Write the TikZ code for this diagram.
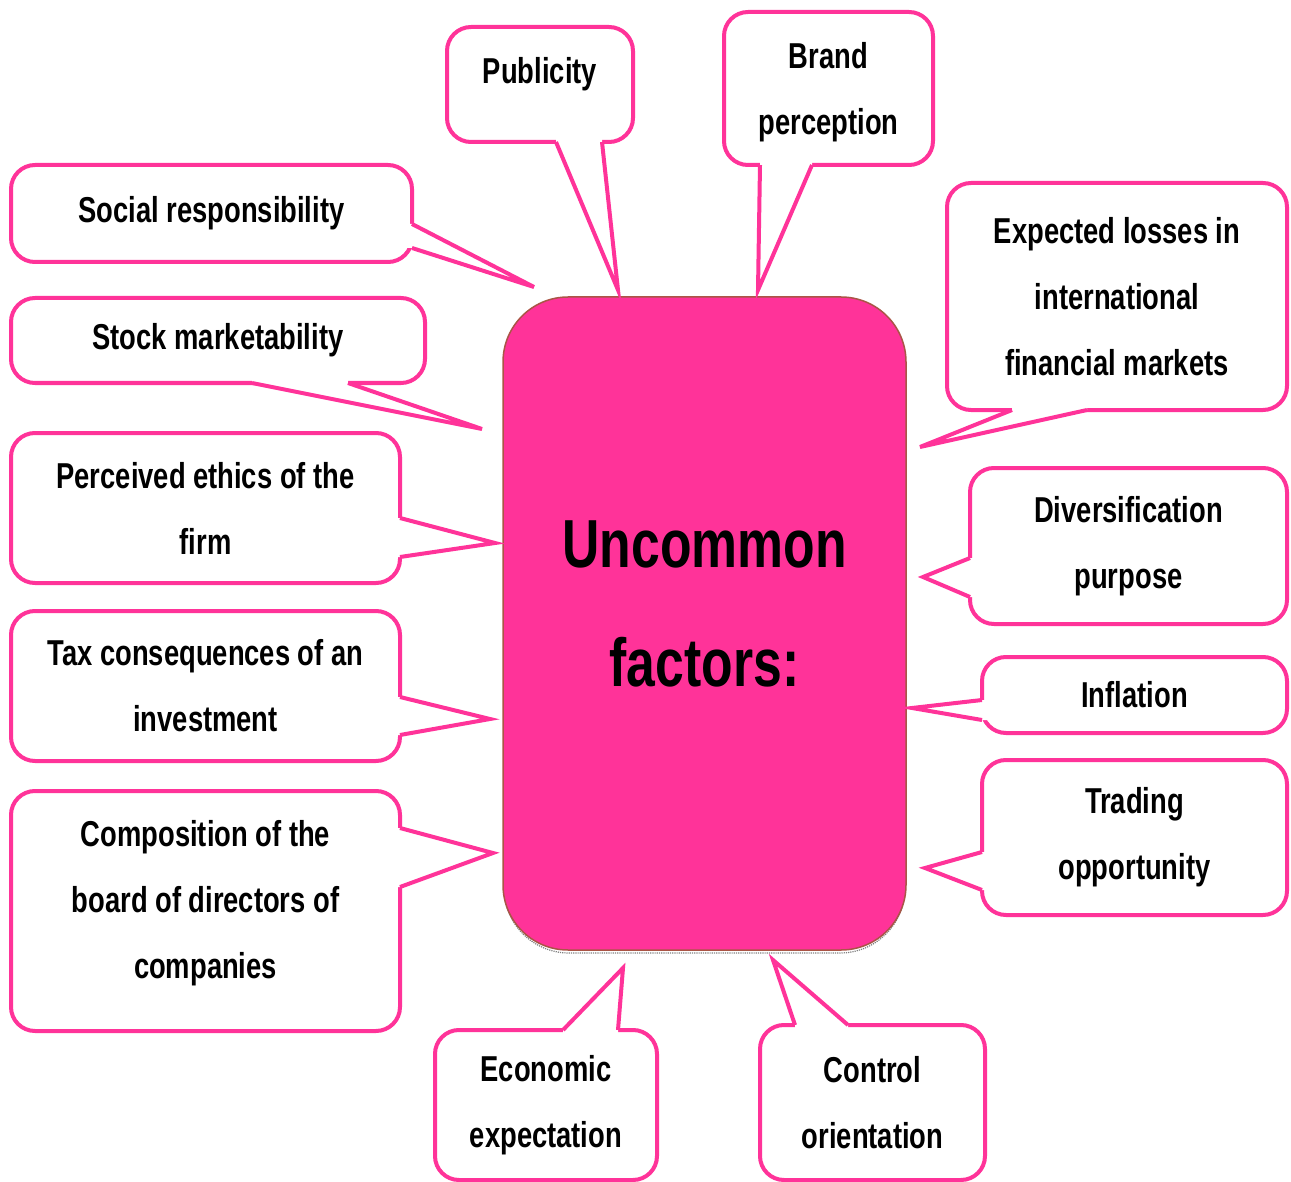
\documentclass[tikz,border=0pt]{standalone}
\usepackage{fontspec}
\setmainfont{Liberation Sans}[FakeStretch=0.76]
\usetikzlibrary{calc}
\definecolor{hotpink}{RGB}{255,51,153}
\definecolor{rimbrown}{RGB}{170,85,70}
\tikzset{
    callbox/.style={draw=hotpink, line width=4pt, fill=white, rounded corners=24pt,
        align=center, inner sep=0pt, font=\bfseries\fontsize{36}{66}\selectfont},
    calline/.style={draw=hotpink, line width=4pt, line join=miter},
    corebox/.style={draw=rimbrown, line width=1.5pt, fill=hotpink, rounded corners=65pt,
        minimum width=403pt, minimum height=653pt},
    coretext/.style={align=center, font=\bfseries\fontsize{68}{119}\selectfont},
}
\newcommand{\callpointer}[4]{%
    \fill[white] ($#1+#4$) -- #1 -- #2 -- #3 -- ($#3+#4$) -- cycle;
    \draw[calline] #1 -- #2 -- #3;
}

\begin{document}
\begin{tikzpicture}[x=1pt, y=-1pt]
    \useasboundingbox (0,0) rectangle (1291,1182);
    \draw[gray, line width=1.2pt, densely dotted, rounded corners=65pt]
        (504,860) -- (504,953) -- (905,953) -- (905,860);
    \node[corebox] (core) at (704.5,623.5) {};
    \node[coretext] (title) at (704.5,604) {Uncommon\\factors:};

    \node[callbox, minimum width=401pt, minimum height=97pt] (social) at (211.5,213.5) {Social responsibility};
    \node[callbox, minimum width=414pt, minimum height=85pt] (stock) at (218,340.5) {Stock marketability};
    \node[callbox, minimum width=389pt, minimum height=150pt] (ethics) at (205.5,508) {Perceived ethics of the\\firm};
    \node[callbox, minimum width=389pt, minimum height=150pt] (tax) at (205.5,686) {Tax consequences of an\\investment};
    \node[callbox, minimum width=389pt, minimum height=240pt, text depth=23pt] (board) at (205.5,911) {Composition of the\\board of directors of\\companies};
    \node[callbox, minimum width=186pt, minimum height=115pt, text depth=28pt] (publicity) at (540,84.5) {Publicity};
    \node[callbox, minimum width=209pt, minimum height=153pt, text depth=1pt] (brand) at (828.5,88.5) {Brand\\perception};
    \node[callbox, minimum width=340pt, minimum height=227pt] (losses) at (1117,296.5) {Expected losses in\\international\\financial markets};
    \node[callbox, minimum width=317pt, minimum height=156pt] (divers) at (1128.5,546) {Diversification\\purpose};
    \node[callbox, minimum width=305pt, minimum height=76pt] (inflation) at (1134.5,695) {Inflation};
    \node[callbox, minimum width=305pt, minimum height=155pt] (trading) at (1134.5,837.5) {Trading\\opportunity};
    \node[callbox, minimum width=222pt, minimum height=150pt] (economic) at (546,1105) {Economic\\expectation};
    \node[callbox, minimum width=225pt, minimum height=155pt] (control) at (872.5,1102.5) {Control\\orientation};

    \coordinate (socialtip) at (534,287);
    \coordinate (stocktip) at (482,429);
    \coordinate (ethicstip) at (495,543);
    \coordinate (taxtip) at (490,719);
    \coordinate (boardtip) at (493,853);
    \coordinate (publicitytip) at (618,290);
    \coordinate (brandtip) at (758,290);
    \coordinate (lossestip) at (920,447);
    \coordinate (diverstip) at (923,577);
    \coordinate (inflationtip) at (912,708);
    \coordinate (tradingtip) at (925,868);
    \coordinate (economictip) at (623,968);
    \coordinate (controltip) at (773,960);

    \callpointer{(412,224)}{(socialtip)}{(412,248)}{(-10,0)}
    \callpointer{(252,383)}{(stocktip)}{(348,383)}{(0,-10)}
    \callpointer{(400,518)}{(ethicstip)}{(400,557)}{(-10,0)}
    \callpointer{(400,697)}{(taxtip)}{(400,735)}{(-10,0)}
    \callpointer{(400,828)}{(boardtip)}{(400,887)}{(-10,0)}
    \callpointer{(556,142)}{(publicitytip)}{(602,142)}{(0,-10)}
    \callpointer{(760,165)}{(brandtip)}{(812,165)}{(0,-10)}
    \callpointer{(1012,410)}{(lossestip)}{(1087,410)}{(0,-10)}
    \callpointer{(970,558)}{(diverstip)}{(970,597)}{(10,0)}
    \callpointer{(982,700)}{(inflationtip)}{(982,720)}{(10,0)}
    \callpointer{(982,852)}{(tradingtip)}{(982,890)}{(10,0)}
    \callpointer{(563,1030)}{(economictip)}{(618,1030)}{(0,10)}
    \callpointer{(795,1025)}{(controltip)}{(848,1025)}{(0,10)}
\end{tikzpicture}
\end{document}
